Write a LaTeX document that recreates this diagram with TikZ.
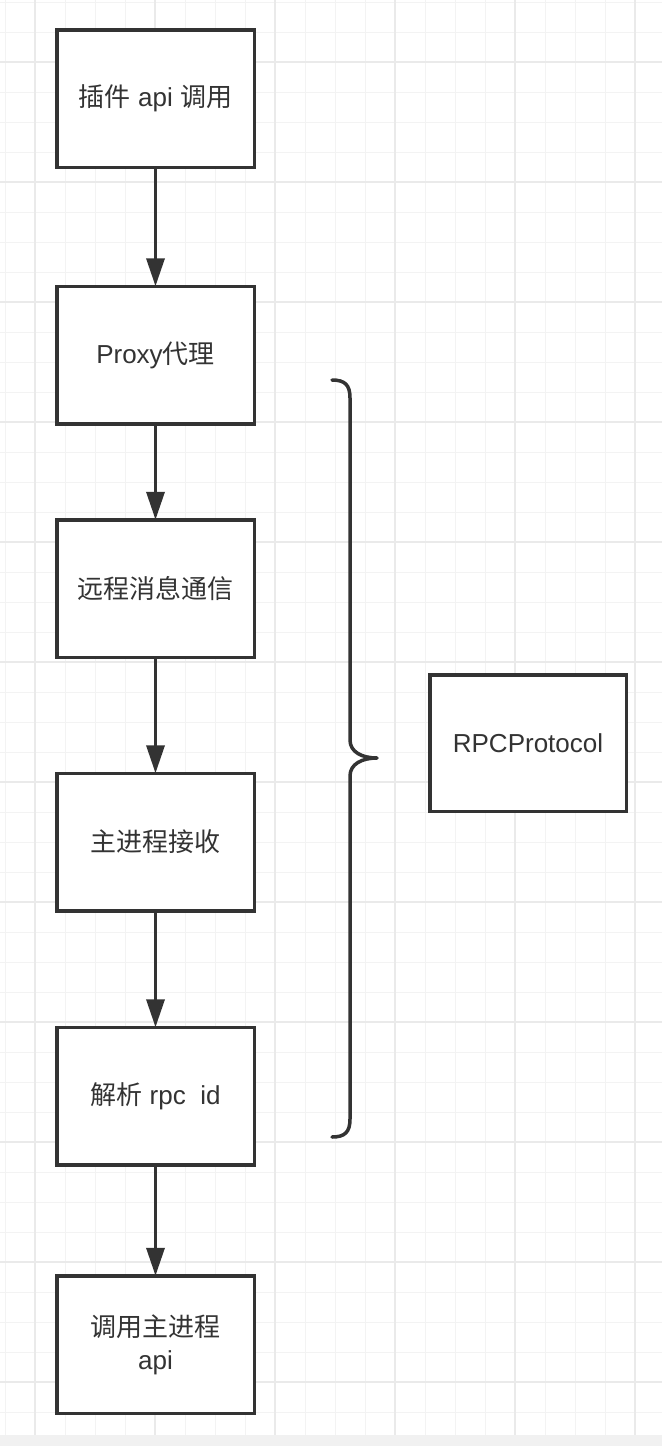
\documentclass[tikz,border=0pt]{standalone}
\usepackage{fontspec}
\setmainfont{Liberation Sans}
\newfontfamily\cjk{Noto Sans CJK SC}
\usetikzlibrary{arrows.meta}
\definecolor{ink}{HTML}{333333}
\definecolor{gridminor}{HTML}{F3F3F3}
\definecolor{gridmajor}{HTML}{EAEAEA}
\definecolor{strip}{HTML}{F1F1F1}
\begin{document}
\begin{tikzpicture}[x=1pt,y=-1pt,
  box/.style={draw=ink, line width=3.5pt, fill=white, minimum width=197.5pt, minimum height=137.5pt,
    inner sep=0pt, outer sep=0pt, font=\fontsize{26}{33}\selectfont, text=ink, align=center},
  flow/.style={draw=ink, line width=3.5pt, -{Triangle[length=28pt,width=18pt]}},
  brace/.style={draw=ink, line width=3.5pt, line cap=round, line join=round},
  minorline/.style={draw=gridminor, line width=1pt},
  majorline/.style={draw=gridmajor, line width=1.3pt}]
\useasboundingbox (0,0) rectangle (662,1446);
\fill[white] (0,0) rectangle (662,1446);
\fill[strip] (0,1435) rectangle (662,1446);
% grid
\foreach \x in {5,35,...,659} \draw[minorline] (\x,0) -- (\x,1435);
\foreach \y in {2,32,...,1434} \draw[minorline] (0,\y) -- (662,\y);
\foreach \x in {35,155,...,659} \draw[majorline] (\x,0) -- (\x,1435);
\foreach \y in {62,182,...,1434} \draw[majorline] (0,\y) -- (662,\y);
% boxes
\node[box] (b1) at (155.5,98.5) {{\cjk 插件} api {\cjk 调用}};
\node[box] (b2) at (155.5,355) {Proxy{\cjk 代理}};
\node[box] (b3) at (155.5,588.5) {\cjk 远程消息通信};
\node[box] (b4) at (155.5,842) {\cjk 主进程接收};
\node[box] (b5) at (155.5,1096) {{\cjk 解析} rpc\ \ id};
\node[box] (b6) at (155.5,1344.5) {{\cjk 调用主进程}\\api};
\node[box, minimum width=196.5pt, minimum height=136.5pt] (rpc) at (528,743) {RPCProtocol};
% arrows
\draw[flow] (b1.south) -- (b2.north);
\draw[flow] (b2.south) -- (b3.north);
\draw[flow] (b3.south) -- (b4.north);
\draw[flow] (b4.south) -- (b5.north);
\draw[flow] (b5.south) -- (b6.north);
% brace
\draw[brace] (332,380) .. controls (345,380) and (350,385) .. (350,398)
  -- (350,740) .. controls (350,752) and (362,758) .. (377,758)
  .. controls (362,758) and (350,764) .. (350,776)
  -- (350,1119) .. controls (350,1132) and (345,1137) .. (332,1137);
\end{tikzpicture}
\end{document}
